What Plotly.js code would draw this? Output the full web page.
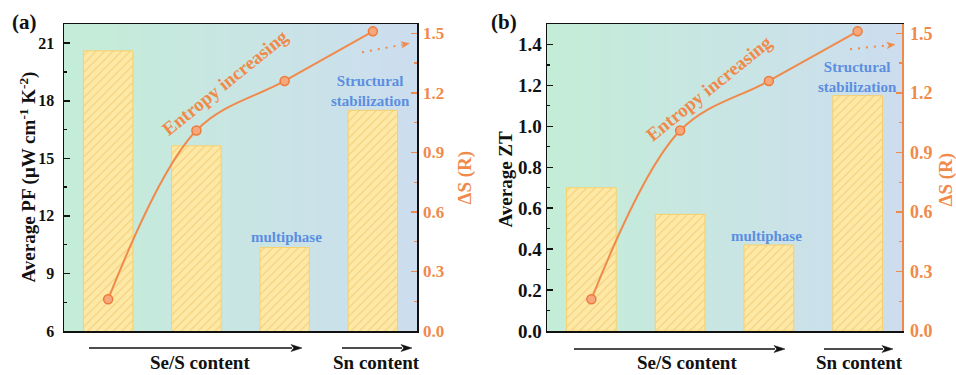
<!DOCTYPE html>
<html><head><meta charset="utf-8">
<script src="https://cdn.plot.ly/plotly-3.0.1.min.js"></script>
<style>html,body{margin:0;padding:0;background:#fff;}#chart{width:956px;height:375px;}</style>
</head><body><div id="chart"></div>
<script>
// ---- data ----
const categories = ['S1', 'S2', 'S3', 'S4'];
const pfValues = [20.6, 15.65, 10.35, 17.5];      // Average PF (μW cm-1 K-2)
const ztValues = [0.70, 0.57, 0.42, 1.15];        // Average ZT
const entropyValues = [0.16, 1.01, 1.26, 1.51];   // ΔS (R)
const pfTicks = [6, 9, 12, 15, 18, 21];
const ztTicks = [0.0, 0.2, 0.4, 0.6, 0.8, 1.0, 1.2, 1.4];
const dsTicks = [0.0, 0.3, 0.6, 0.9, 1.2, 1.5];

// ---- style ----
const W = 956, H = 375;
const px = v => v / W, py = v => 1 - v / H;
const FONT = 'Liberation Serif';
const ORANGE = '#f08a4b';
const BLUE = '#5b8ee0';
const BAR_FILL = '#fde8a6';
const HATCH = '#f2cc74';

function barTrace(y, xa, ya) {
  return {
    type: 'bar', x: categories, y: y, xaxis: xa, yaxis: ya, width: 0.56,
    marker: {
      color: BAR_FILL,
      line: {color: '#f6d16c', width: 1},
      pattern: {shape: '/', fgcolor: HATCH, bgcolor: BAR_FILL, size: 6, solidity: 0.16}
    },
    hoverinfo: 'skip', showlegend: false
  };
}
function lineTrace(xa, ya) {
  return {
    type: 'scatter', mode: 'lines+markers', x: categories, y: entropyValues,
    xaxis: xa, yaxis: ya,
    line: {color: ORANGE, width: 2, shape: 'spline', smoothing: 1},
    marker: {size: 9, color: '#f7a77c', line: {color: '#ee7a3a', width: 1.5}},
    hoverinfo: 'skip', showlegend: false
  };
}

const data = [
  barTrace(pfValues, 'x', 'y'),
  lineTrace('x', 'y2'),
  barTrace(ztValues, 'x2', 'y3'),
  lineTrace('x2', 'y4')
];

const tickFontBlack = (s) => ({family: FONT, size: s, color: '#111', weight: 'bold'});
const tickFontOrange = (s) => ({family: FONT, size: s, color: ORANGE, weight: 'bold'});

function xAxis(dom, anchor) {
  return {
    domain: dom, anchor: anchor, range: [-0.5, 3.5], type: 'category',
    showticklabels: false, ticks: '', showgrid: false, zeroline: false,
    showline: true, linecolor: '#111', linewidth: 1.5, mirror: true, fixedrange: true
  };
}
const yDom = [py(331), py(24)];

function leftAxis(anchor, range, ticks, minorDtick, size, mirror, standoff) {
  return {
    domain: yDom, anchor: anchor, range: range, tickvals: ticks,
    ticktext: ticks.map(v => (range[1] < 5 ? v.toFixed(1) : String(v))),
    ticks: 'inside', ticklen: 6, tickwidth: 1.5, tickcolor: '#111',
    minor: {dtick: minorDtick, tick0: range[0], ticks: 'inside', ticklen: 3, tickwidth: 1.2, tickcolor: '#111'},
    showline: true, linecolor: '#111', linewidth: 1.5, mirror: mirror,
    showgrid: false, zeroline: false, tickfont: tickFontBlack(size),
    ticklabelstandoff: standoff, fixedrange: true
  };
}
function rightAxis(overlay, anchor, size, showline, standoff) {
  return {
    overlaying: overlay, anchor: anchor, side: 'right', range: [0, 1.547],
    tickvals: dsTicks, ticktext: dsTicks.map(v => v.toFixed(1)),
    ticks: 'inside', ticklen: 6, tickwidth: 1.5, tickcolor: ORANGE,
    minor: {dtick: 0.15, tick0: 0, ticks: 'inside', ticklen: 3, tickwidth: 1.2, tickcolor: ORANGE},
    showline: showline, linecolor: ORANGE, linewidth: 1.5,
    showgrid: false, zeroline: false, tickfont: tickFontOrange(size),
    ticklabelstandoff: standoff, fixedrange: true
  };
}

// gradient background strips
const shapes = [];
const G1 = [196, 237, 215], G2 = [204, 221, 239];
function addGradient(xref, yref) {
  const N = 60;
  for (let i = 0; i < N; i++) {
    const t = (i + 0.5) / N;
    const c = G1.map((a, k) => Math.round(a + (G2[k] - a) * t));
    shapes.push({
      type: 'rect', xref: xref, yref: yref, x0: i / N, x1: (i + 1) / N + 0.002, y0: 0, y1: 1,
      fillcolor: `rgb(${c[0]},${c[1]},${c[2]})`, line: {width: 0}, layer: 'below'
    });
  }
}
addGradient('x domain', 'y domain');
addGradient('x2 domain', 'y3 domain');

// arrows drawn as shapes (line + filled head), pixel helpers
function arrowShape(x0, y0, x1, y1, color, width, dash, headLen, headHalf) {
  const ang = Math.atan2(y1 - y0, x1 - x0);
  const bx = x1 - headLen * Math.cos(ang), by = y1 - headLen * Math.sin(ang);
  shapes.push({
    type: 'line', xref: 'paper', yref: 'paper', x0: px(x0), y0: py(y0), x1: px(bx + Math.cos(ang)), y1: py(by + Math.sin(ang)),
    line: {color: color, width: width, dash: dash || 'solid'}
  });
  const nx = -Math.sin(ang) * headHalf, ny = Math.cos(ang) * headHalf;
  const p = [[x1, y1], [bx + nx, by + ny], [bx + 0.25 * headLen * Math.cos(ang), by + 0.25 * headLen * Math.sin(ang)], [bx - nx, by - ny]];
  shapes.push({
    type: 'path', xref: 'paper', yref: 'paper',
    path: 'M' + p.map(q => px(q[0]) + ',' + py(q[1])).join(' L') + ' Z',
    fillcolor: color, line: {color: color, width: 0.5}
  });
}
// bottom black arrows
arrowShape(89, 348, 302, 348, '#111', 1.5, null, 11, 3.5);
arrowShape(342, 348, 412, 348, '#111', 1.5, null, 11, 3.5);
arrowShape(574, 349, 785, 349, '#111', 1.5, null, 11, 3.5);
arrowShape(824, 349, 893, 349, '#111', 1.5, null, 11, 3.5);
// dotted orange arrows
arrowShape(362, 52.3, 409.3, 43.4, ORANGE, 2, '2px,6px', 8, 3.2);
arrowShape(850, 49.2, 895, 44.6, ORANGE, 2, '2px,6px', 8, 3.2);

const annotations = [];
function txt(text, x, y, size, color, angle, yanchor) {
  annotations.push({
    xref: 'paper', yref: 'paper', x: px(x), y: py(y), xanchor: 'center', yanchor: yanchor || 'middle',
    text: text, showarrow: false, textangle: angle || 0,
    font: {family: FONT, size: size, color: color, weight: 'bold'}
  });
}

// panel labels
txt('(a)', 24.5, 22, 21, '#111');
txt('(b)', 503.5, 22, 21, '#111');
// axis titles
txt('Average PF (μW cm<sup>-1</sup> K<sup>-2</sup>)', 28, 177.5, 19, '#111', -90);
txt('ΔS (R)', 464, 177.5, 19, ORANGE, -90);
txt('Average ZT', 505, 179.5, 19, '#111', -90);
txt('ΔS (R)', 945, 179.5, 19, ORANGE, -90);
// in-plot labels
txt('Entropy increasing', 225, 82, 19, ORANGE, -39);
txt('Entropy increasing', 708.5, 88, 19, ORANGE, -39);
txt('Structural<br>stabilization', 370, 90.5, 15, BLUE);
txt('Structural<br>stabilization', 857, 77, 15, BLUE);
txt('multiphase', 286, 237, 15, BLUE);
txt('multiphase', 766, 236, 15, BLUE);
// bottom labels
txt('Se/S content', 200, 374.5, 19, '#111', 0, 'bottom');
txt('Sn content', 376.5, 374.5, 19, '#111', 0, 'bottom');
txt('Se/S content', 687, 374.5, 19, '#111', 0, 'bottom');
txt('Sn content', 859.5, 374.5, 19, '#111', 0, 'bottom');

const layout = {
  width: W, height: H, margin: {l: 0, r: 0, t: 0, b: 0},
  paper_bgcolor: '#ffffff', plot_bgcolor: 'rgba(0,0,0,0)',
  barmode: 'overlay', showlegend: false,
  font: {family: FONT},
  xaxis: xAxis([px(64), px(417)], 'y'),
  yaxis: leftAxis('x', [6, 22], pfTicks, 1.5, 16, true, 5),
  yaxis2: rightAxis('y', 'x', 17, false, 5),
  xaxis2: xAxis([px(547), px(902)], 'y3'),
  yaxis3: leftAxis('x2', [0, 1.5], ztTicks, 0.1, 19, false, 0),
  yaxis4: rightAxis('y3', 'x2', 18, true, 3),
  shapes: shapes, annotations: annotations
};

Plotly.newPlot('chart', data, layout, {displayModeBar: false, staticPlot: true});
</script>
</body></html>
